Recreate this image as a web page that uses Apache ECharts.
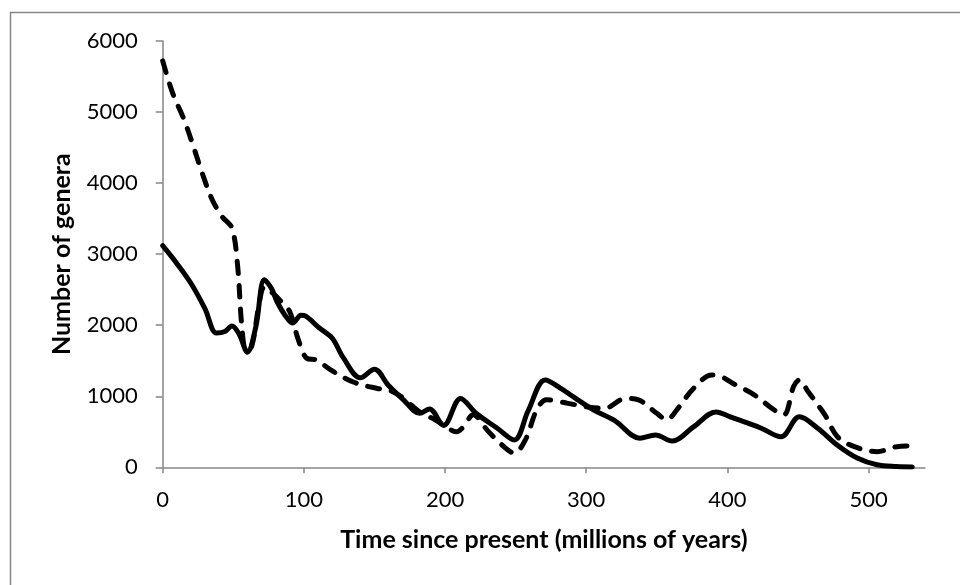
<!DOCTYPE html>
<html>
<head>
<meta charset="utf-8">
<script src="https://cdn.jsdelivr.net/npm/echarts@6/dist/echarts.min.js"></script>
<style>
html,body{margin:0;padding:0;background:#fff;}
#chart{width:960px;height:585px;}
</style>
</head>
<body>
<div id="chart"></div>
<script>
// Time since present (millions of years) and number of genera
var solidYears  = [0,10,20,30,38,44,49,54,60,66,72,77,81,87,92,98,101,111,120,128,140,150,160,170,182,189,199,211,222,237,249,259,271,282,291,305,320,338,349,361,376,392,402,424,438,451,464,478,492,506,520,531];
var solidGenera = [3120,2870,2590,2230,1890,1910,1990,1880,1620,1980,2640,2520,2330,2130,2030,2140,2130,1960,1820,1540,1260,1380,1150,960,760,820,590,970,760,550,385,800,1230,1110,990,810,660,410,455,370,570,780,710,550,430,710,550,310,130,35,10,5];
var dashedYears  = [0,7,15,21,28,35,42,49,53,56,59,63,68,72,78,84,90,96,102,109,119,135,152,160,170,182,193,200,208,213,220,230,240,249,257,265,272,287,301,313,328,337,350,357,365,376,389,394,404,419,433,440,447,451,457,469,478,490,506,520,531];
var dashedGenera = [5720,5270,4900,4560,4140,3770,3530,3370,2850,2000,1650,1700,2260,2540,2450,2330,2190,1800,1535,1510,1370,1200,1110,1090,980,780,670,580,500,570,740,520,320,200,390,810,950,900,850,830,970,950,760,670,830,1110,1300,1290,1180,1020,810,740,1140,1230,1070,740,430,290,220,290,300];
var xTicks = [0,100,200,300,400,500];
var yTicks = [0,1000,2000,3000,4000,5000,6000];

function zip(xs, ys){ return xs.map(function(x,i){ return [x, ys[i]]; }); }
function plain(v){ return String(v); }

var chart = echarts.init(document.getElementById('chart'), null, {renderer:'canvas'});
var axisGray = '#868686';
chart.setOption({
  animation: false,
  backgroundColor: '#fff',
  graphic: [{
    type: 'rect', silent: true,
    shape: {x: 10.5, y: 12.5, width: 1000, height: 700},
    style: {fill: 'none', stroke: axisGray, lineWidth: 1.5}
  }],
  grid: {left: 162.7, right: 35, top: 41, bottom: 117.7, containLabel: false},
  xAxis: {
    type: 'value', min: 0, max: 540, interval: 100,
    name: 'Time since present (millions of years)',
    nameLocation: 'middle', nameGap: 60,
    nameTextStyle: {fontFamily: 'Lato', fontWeight: 'bold', fontSize: 25, color: '#000'},
    axisLine: {show: true, lineStyle: {color: axisGray, width: 1.5}},
    axisTick: {show: true, length: 6, inside: false, customValues: xTicks, lineStyle: {color: axisGray, width: 1.5}},
    axisLabel: {customValues: xTicks, formatter: plain, fontFamily: 'Lato', fontSize: 22, color: '#000', margin: 22},
    splitLine: {show: false}
  },
  yAxis: {
    type: 'value', min: 0, max: 6000, interval: 1000,
    name: 'Number of genera',
    nameLocation: 'middle', nameGap: 88,
    nameTextStyle: {fontFamily: 'Lato', fontWeight: 'bold', fontSize: 25, color: '#000'},
    axisLine: {show: true, lineStyle: {color: axisGray, width: 1.5}},
    axisTick: {show: true, length: 7, inside: false, customValues: yTicks, lineStyle: {color: axisGray, width: 1.5}},
    axisLabel: {customValues: yTicks, formatter: plain, fontFamily: 'Lato', fontSize: 22, color: '#000', margin: 25},
    splitLine: {show: false}
  },
  series: [
    {
      name: 'Dashed', type: 'line', data: zip(dashedYears, dashedGenera),
      showSymbol: false, smooth: 0.35, z: 2,
      lineStyle: {color: '#000', width: 5, type: [12, 12], cap: 'round', join: 'round'}
    },
    {
      name: 'Solid', type: 'line', data: zip(solidYears, solidGenera),
      showSymbol: false, smooth: 0.35, z: 3,
      lineStyle: {color: '#000', width: 5, type: 'solid', cap: 'round', join: 'round'}
    }
  ]
});
</script>
</body>
</html>
